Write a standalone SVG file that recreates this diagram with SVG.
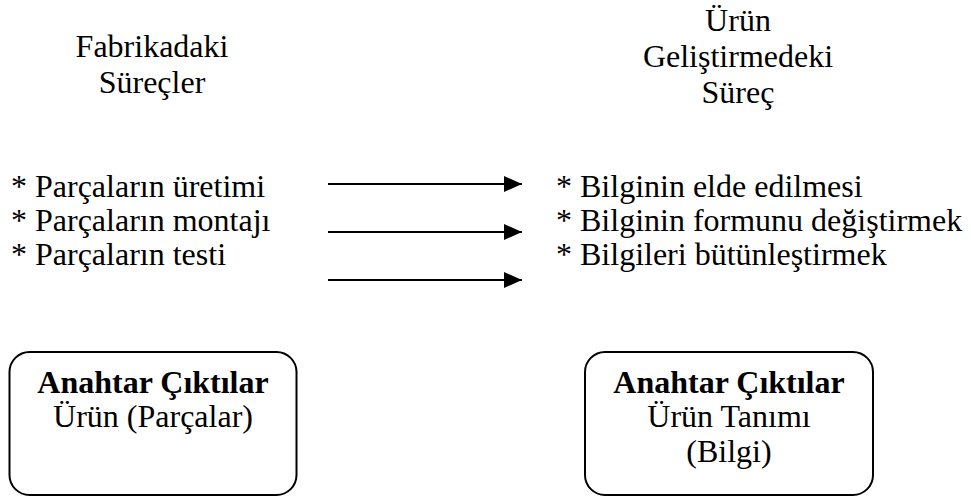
<svg xmlns="http://www.w3.org/2000/svg" width="971" height="497" viewBox="0 0 971 497" font-family="'Liberation Serif', 'DejaVu Serif', serif">
  <style>
    text { font-family: 'Liberation Serif', 'DejaVu Serif', serif; font-size: 32px; fill: #000; }
    .c { text-anchor: middle; }
    .b { font-weight: bold; }
    .box { fill: #fff; stroke: #000; stroke-width: 2; }
    .arrow { stroke: #000; stroke-width: 2; fill: none; }
  </style>
  <defs>
    <marker id="head" markerWidth="9" markerHeight="8" refX="9" refY="4" orient="auto" markerUnits="strokeWidth">
      <path d="M0,0 L9,4 L0,8 Z" fill="#000"/>
    </marker>
  </defs>
  <rect width="971" height="497" fill="#fff"/>

  <!-- column headings -->
  <g id="heading-factory">
    <text class="c" x="152" y="57">Fabrikadaki</text>
    <text class="c" x="152" y="93">Süreçler</text>
  </g>
  <g id="heading-development">
    <text class="c" x="738" y="31">Ürün</text>
    <text class="c" x="738" y="67">Geliştirmedeki</text>
    <text class="c" x="738" y="103">Süreç</text>
  </g>

  <!-- process lists -->
  <g id="list-factory">
    <text x="11" y="197">* Parçaların üretimi</text>
    <text x="11" y="231">* Parçaların montajı</text>
    <text x="11" y="265">* Parçaların testi</text>
  </g>
  <g id="list-development">
    <text x="556" y="197">* Bilginin elde edilmesi</text>
    <text x="556" y="231">* Bilginin formunu değiştirmek</text>
    <text x="556" y="265">* Bilgileri bütünleştirmek</text>
  </g>

  <!-- connectors -->
  <g id="connectors">
    <line class="arrow" x1="328" y1="184" x2="522" y2="184" marker-end="url(#head)"/>
    <line class="arrow" x1="328" y1="232" x2="522" y2="232" marker-end="url(#head)"/>
    <line class="arrow" x1="328" y1="280" x2="522" y2="280" marker-end="url(#head)"/>
  </g>

  <!-- key output boxes -->
  <g id="output-factory">
    <rect class="box" x="9.5" y="352" width="287" height="143" rx="20"/>
    <text class="c b" x="153" y="393">Anahtar Çıktılar</text>
    <text class="c" x="153" y="427">Ürün (Parçalar)</text>
  </g>
  <g id="output-development">
    <rect class="box" x="585" y="352" width="288" height="143" rx="20"/>
    <text class="c b" x="729" y="393">Anahtar Çıktılar</text>
    <text class="c" x="729" y="427">Ürün Tanımı</text>
    <text class="c" x="729" y="462">(Bilgi)</text>
  </g>
</svg>
